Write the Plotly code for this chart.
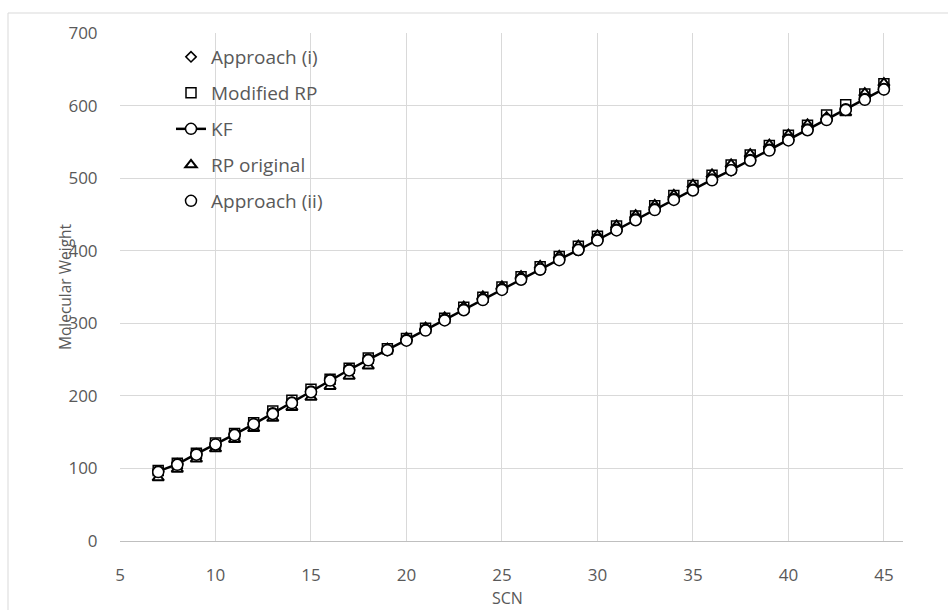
import plotly.graph_objects as go

# Single carbon number (SCN) groups
scn = list(range(7, 46))

# Molecular weight by method
kf = [96, 106, 120, 133, 147, 161, 176, 191, 206, 222, 236, 250, 263, 277, 291,
      305, 319, 333, 347, 361, 374, 388, 401, 415, 429, 443, 457, 471, 484, 498,
      511, 525, 539, 553, 567, 581, 595, 609, 623]
approach_i = [96, 106, 120, 133, 147, 161, 176, 191, 206, 221, 236, 250, 264, 277, 291,
              305, 319, 333, 347, 361, 374, 388, 402, 415, 429, 443, 457, 470, 484, 498,
              512, 525, 539, 553, 567, 581, 594, 608, 622]
modified_rp = [97, 107, 121, 135, 148, 163, 179, 194, 209, 223, 238, 252, 265, 279, 293,
               307, 322, 336, 350, 364, 378, 392, 406, 420, 434, 448, 462, 476, 490, 504,
               518, 532, 545, 559, 573, 587, 601, 616, 630]
rp_original = [87, 99, 113, 127, 140, 155, 169, 184, 198, 213, 227, 241, 265, 280, 294,
               308, 323, 337, 351, 365, 379, 393, 407, 421, 435, 449, 463, 477, 491, 505,
               519, 533, 546, 560, 574, 584, 590, 617, 631]
approach_ii = [95, 105, 119, 133, 146, 161, 175, 190, 205, 221, 235, 249, 263, 276, 290,
               304, 318, 332, 346, 360, 374, 387, 401, 414, 428, 442, 456, 470, 483, 497,
               511, 524, 538, 552, 566, 580, 594, 608, 622]

x_ticks = [5, 10, 15, 20, 25, 30, 35, 40, 45]
y_ticks = [0, 100, 200, 300, 400, 500, 600, 700]

FONT = "Open Sans"
GREY = "#595959"
GRID = "#d9d9d9"

W, H = 948, 610
ML, MR, MT, MB = 120, 45, 33, 69
PW, PH = W - ML - MR, H - MT - MB


def px_x(p):
    return (p - ML) / PW


def px_y(p):
    return (H - MB - p) / PH


fig = go.Figure()

fig.add_trace(go.Scatter(
    x=scn, y=approach_i, mode="markers", name="Approach (i)",
    legendgroup="a1", legendrank=1,
    marker=dict(symbol="diamond-open", size=8, color="black", line=dict(width=1.5)),
))
fig.add_trace(go.Scatter(
    x=scn, y=modified_rp, mode="markers", name="Modified RP",
    legendgroup="mrp", legendrank=2,
    marker=dict(symbol="square", size=10, color="white",
                line=dict(color="black", width=1.5)),
))
fig.add_trace(go.Scatter(
    x=scn, y=rp_original, mode="markers", name="RP original",
    legendgroup="rp", legendrank=4,
    marker=dict(symbol="triangle-up", size=10, color="white",
                line=dict(color="black", width=2)),
))
fig.add_trace(go.Scatter(
    x=scn, y=kf, mode="lines+markers", name="KF",
    legendgroup="kf", legendrank=3,
    line=dict(color="black", width=2.5),
    marker=dict(symbol="circle", size=11, color="white",
                line=dict(color="black", width=1.5)),
))
fig.add_trace(go.Scatter(
    x=scn, y=approach_ii, mode="markers", name="Approach (ii)",
    legendgroup="a2", legendrank=5,
    marker=dict(symbol="circle", size=11, color="white",
                line=dict(color="black", width=1.5)),
))

axis_common = dict(
    showgrid=True, gridcolor=GRID, gridwidth=1, zeroline=False,
    tickfont=dict(family=FONT, size=17, color=GREY),
    ticks="outside", tickcolor="rgba(0,0,0,0)",
)

fig.update_xaxes(
    range=[5, 46], tickvals=x_ticks, ticklen=19,
    showline=True, linecolor="#bfbfbf", linewidth=1,
    **axis_common,
)
fig.update_yaxes(
    range=[0, 700], tickvals=y_ticks, ticklen=18, showline=False,
    **axis_common,
)

fig.update_layout(
    width=W, height=H,
    margin=dict(l=ML, r=MR, t=MT, b=MB, pad=0),
    paper_bgcolor="white", plot_bgcolor="white",
    font=dict(family=FONT, color=GREY),
    showlegend=True,
    legend=dict(
        x=px_x(171), y=px_y(38), xanchor="left", yanchor="top",
        bgcolor="rgba(0,0,0,0)", borderwidth=0,
        font=dict(family=FONT, size=19, color=GREY),
        tracegroupgap=8.3, traceorder="grouped", itemwidth=30,
    ),
    shapes=[
        # white panel behind the legend
        dict(type="rect", xref="paper", yref="paper", layer="between",
             x0=px_x(128), x1=px_x(375), y0=px_y(216), y1=px_y(37),
             fillcolor="white", line=dict(width=0)),
        # outer chart frame
        dict(type="rect", xref="paper", yref="paper",
             x0=px_x(8), x1=px_x(990), y0=px_y(660), y1=px_y(13),
             fillcolor="rgba(0,0,0,0)", line=dict(color=GRID, width=1)),
    ],
    annotations=[
        dict(text="SCN", xref="paper", yref="paper", x=px_x(507), y=px_y(598),
             xanchor="center", yanchor="middle",
             showarrow=False, font=dict(family=FONT, size=16, color=GREY)),
        dict(text="Molecular Weight", xref="paper", yref="paper",
             x=px_x(65), y=px_y(287), textangle=-90,
             xanchor="center", yanchor="middle",
             showarrow=False, font=dict(family=FONT, size=15.5, color=GREY)),
    ],
)

fig.write_html("out.html")
